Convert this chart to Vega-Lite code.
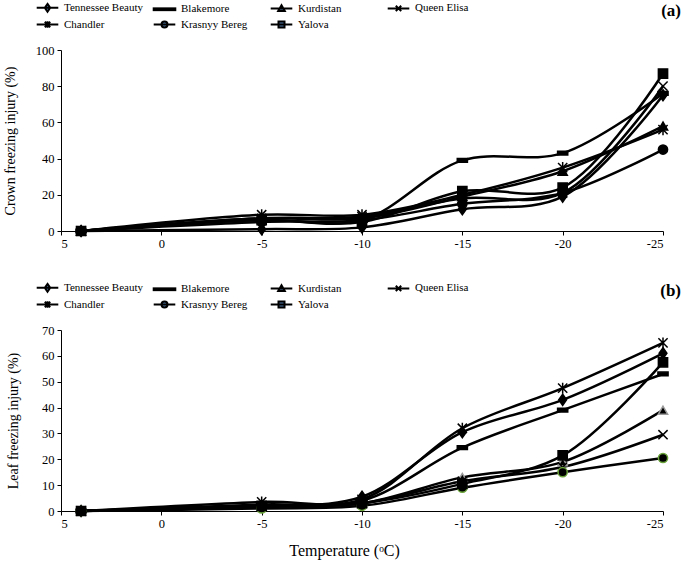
{
  "$schema": "https://vega.github.io/schema/vega-lite/v6.json",
  "background": "white",
  "padding": {"left": 3, "top": 2, "right": 2, "bottom": 2},
  "config": {
    "view": {"stroke": null},
    "font": "Liberation Serif",
    "axis": {
      "grid": false,
      "domainColor": "black",
      "tickColor": "black",
      "labelColor": "black",
      "titleColor": "black",
      "labelFont": "Liberation Serif",
      "titleFont": "Liberation Serif",
      "labelFontSize": 12.5,
      "titleFontSize": 14,
      "titleFontWeight": "normal",
      "tickSize": 4,
      "labelPadding": 3
    },
    "legend": {
      "orient": "none", "legendX": -29, "legendY": -48, "direction": "horizontal", "columns": 4, "title": null,
      "gridAlign": "all", "columnPadding": 6, "rowPadding": 1, "padding": 0, "symbolSize": 36, "symbolOffset": 10, "labelOffset": 11,
      "labelFont": "Liberation Serif", "labelFontSize": 11, "labelColor": "black",
      "symbolStrokeWidth": 2, "symbolStrokeColor": "black", "symbolFillColor": "black", "symbolOpacity": 1
    },
    "title": {"font": "Liberation Serif", "fontSize": 17, "fontWeight": "bold", "color": "black"}
  },
  "spacing": 32,
  "data": {
    "values": [
      {"p": "a", "c": "Tennessee Beauty", "t": 4, "v": 0},
      {"p": "a", "c": "Tennessee Beauty", "t": -5, "v": 1},
      {"p": "a", "c": "Tennessee Beauty", "t": -10, "v": 2},
      {"p": "a", "c": "Tennessee Beauty", "t": -15, "v": 12},
      {"p": "a", "c": "Tennessee Beauty", "t": -20, "v": 19},
      {"p": "a", "c": "Tennessee Beauty", "t": -25, "v": 75},
      {"p": "a", "c": "Blakemore", "t": 4, "v": 0},
      {"p": "a", "c": "Blakemore", "t": -5, "v": 6},
      {"p": "a", "c": "Blakemore", "t": -10, "v": 6},
      {"p": "a", "c": "Blakemore", "t": -15, "v": 39},
      {"p": "a", "c": "Blakemore", "t": -20, "v": 43},
      {"p": "a", "c": "Blakemore", "t": -25, "v": 76},
      {"p": "a", "c": "Kurdistan", "t": 4, "v": 0},
      {"p": "a", "c": "Kurdistan", "t": -5, "v": 7},
      {"p": "a", "c": "Kurdistan", "t": -10, "v": 7},
      {"p": "a", "c": "Kurdistan", "t": -15, "v": 19},
      {"p": "a", "c": "Kurdistan", "t": -20, "v": 33},
      {"p": "a", "c": "Kurdistan", "t": -25, "v": 58},
      {"p": "a", "c": "Queen Elisa", "t": 4, "v": 0},
      {"p": "a", "c": "Queen Elisa", "t": -5, "v": 7},
      {"p": "a", "c": "Queen Elisa", "t": -10, "v": 8},
      {"p": "a", "c": "Queen Elisa", "t": -15, "v": 18},
      {"p": "a", "c": "Queen Elisa", "t": -20, "v": 21},
      {"p": "a", "c": "Queen Elisa", "t": -25, "v": 80},
      {"p": "a", "c": "Chandler", "t": 4, "v": 0},
      {"p": "a", "c": "Chandler", "t": -5, "v": 9},
      {"p": "a", "c": "Chandler", "t": -10, "v": 9},
      {"p": "a", "c": "Chandler", "t": -15, "v": 20},
      {"p": "a", "c": "Chandler", "t": -20, "v": 35},
      {"p": "a", "c": "Chandler", "t": -25, "v": 56},
      {"p": "a", "c": "Krasnyy Bereg", "t": 4, "v": 0},
      {"p": "a", "c": "Krasnyy Bereg", "t": -5, "v": 5},
      {"p": "a", "c": "Krasnyy Bereg", "t": -10, "v": 6},
      {"p": "a", "c": "Krasnyy Bereg", "t": -15, "v": 15},
      {"p": "a", "c": "Krasnyy Bereg", "t": -20, "v": 21},
      {"p": "a", "c": "Krasnyy Bereg", "t": -25, "v": 45},
      {"p": "a", "c": "Yalova", "t": 4, "v": 0},
      {"p": "a", "c": "Yalova", "t": -5, "v": 6},
      {"p": "a", "c": "Yalova", "t": -10, "v": 5},
      {"p": "a", "c": "Yalova", "t": -15, "v": 22},
      {"p": "a", "c": "Yalova", "t": -20, "v": 24},
      {"p": "a", "c": "Yalova", "t": -25, "v": 87},
      {"p": "b", "c": "Tennessee Beauty", "t": 4, "v": 0},
      {"p": "b", "c": "Tennessee Beauty", "t": -5, "v": 2},
      {"p": "b", "c": "Tennessee Beauty", "t": -10, "v": 5.5},
      {"p": "b", "c": "Tennessee Beauty", "t": -15, "v": 30.5},
      {"p": "b", "c": "Tennessee Beauty", "t": -20, "v": 43},
      {"p": "b", "c": "Tennessee Beauty", "t": -25, "v": 61},
      {"p": "b", "c": "Blakemore", "t": 4, "v": 0},
      {"p": "b", "c": "Blakemore", "t": -5, "v": 2.5},
      {"p": "b", "c": "Blakemore", "t": -10, "v": 4},
      {"p": "b", "c": "Blakemore", "t": -15, "v": 24.5},
      {"p": "b", "c": "Blakemore", "t": -20, "v": 39},
      {"p": "b", "c": "Blakemore", "t": -25, "v": 53},
      {"p": "b", "c": "Kurdistan", "t": 4, "v": 0},
      {"p": "b", "c": "Kurdistan", "t": -5, "v": 2},
      {"p": "b", "c": "Kurdistan", "t": -10, "v": 3},
      {"p": "b", "c": "Kurdistan", "t": -15, "v": 13},
      {"p": "b", "c": "Kurdistan", "t": -20, "v": 19},
      {"p": "b", "c": "Kurdistan", "t": -25, "v": 39},
      {"p": "b", "c": "Queen Elisa", "t": 4, "v": 0},
      {"p": "b", "c": "Queen Elisa", "t": -5, "v": 1.5},
      {"p": "b", "c": "Queen Elisa", "t": -10, "v": 3},
      {"p": "b", "c": "Queen Elisa", "t": -15, "v": 11.5},
      {"p": "b", "c": "Queen Elisa", "t": -20, "v": 17},
      {"p": "b", "c": "Queen Elisa", "t": -25, "v": 29.5},
      {"p": "b", "c": "Chandler", "t": 4, "v": 0},
      {"p": "b", "c": "Chandler", "t": -5, "v": 3.5},
      {"p": "b", "c": "Chandler", "t": -10, "v": 4.5},
      {"p": "b", "c": "Chandler", "t": -15, "v": 32},
      {"p": "b", "c": "Chandler", "t": -20, "v": 47.5},
      {"p": "b", "c": "Chandler", "t": -25, "v": 65},
      {"p": "b", "c": "Krasnyy Bereg", "t": 4, "v": 0},
      {"p": "b", "c": "Krasnyy Bereg", "t": -5, "v": 1},
      {"p": "b", "c": "Krasnyy Bereg", "t": -10, "v": 2},
      {"p": "b", "c": "Krasnyy Bereg", "t": -15, "v": 9},
      {"p": "b", "c": "Krasnyy Bereg", "t": -20, "v": 15},
      {"p": "b", "c": "Krasnyy Bereg", "t": -25, "v": 20.5},
      {"p": "b", "c": "Yalova", "t": 4, "v": 0},
      {"p": "b", "c": "Yalova", "t": -5, "v": 2},
      {"p": "b", "c": "Yalova", "t": -10, "v": 3},
      {"p": "b", "c": "Yalova", "t": -15, "v": 10.5},
      {"p": "b", "c": "Yalova", "t": -20, "v": 21.5},
      {"p": "b", "c": "Yalova", "t": -25, "v": 57.5}
    ]
  },
  "vconcat": [
    {
      "width": 602,
      "height": 181,
      "title": {"text": "(a)", "anchor": "end", "frame": "group", "dx": 18, "offset": -18},
      "transform": [{"filter": "datum.p === 'a'"}],
      "encoding": {
        "x": {"field": "t", "type": "quantitative", "scale": {"domain": [-25, 5], "reverse": true},
              "axis": {"values": [5, 0, -5, -10, -15, -20, -25], "title": null, "labelExpr": "'' + datum.value", "labelPadding": 2}},
        "y": {"field": "v", "type": "quantitative", "scale": {"domain": [0, 100]},
              "axis": {"values": [0, 20, 40, 60, 80, 100], "title": "Crown freezing injury (%)", "titlePadding": 18}}
      },
      "resolve": {"scale": {"shape": "independent", "stroke": "independent"}, "legend": {"shape": "independent", "stroke": "independent"}},
      "layer": [
        {"mark": {"type": "line", "interpolate": "catmull-rom", "color": "black", "strokeWidth": 2.5},
         "encoding": {"detail": {"field": "c"}}},
        {"mark": {"type": "point", "filled": true, "size": 85, "opacity": 1, "fill": "black", "stroke": "black", "strokeWidth": 1.5},
         "encoding": {
           "shape": {"field": "c", "type": "nominal", "legend": null,
             "scale": {"domain": ["Tennessee Beauty", "Blakemore", "Kurdistan", "Queen Elisa", "Chandler", "Krasnyy Bereg", "Yalova"],
                       "range": ["M0,-1.2L0.85,0L0,1.2L-0.85,0Z", "M-1.1,-0.4L1.1,-0.4L1.1,0.4L-1.1,0.4Z", "triangle-up", "M-1,-1L1,1M-1,1L1,-1", "M-1,-1L1,1M-1,1L1,-1M0,-1.2L0,1.2", "circle", "square"]}}
         }},
        {"transform": [{"filter": "datum.t > 100"}],
         "mark": {"type": "point", "filled": true, "opacity": 1, "strokeWidth": 2},
         "encoding": {
           "shape": {"field": "c", "type": "nominal",
             "scale": {"domain": ["Tennessee Beauty", "Blakemore", "Kurdistan", "Queen Elisa", "Chandler", "Krasnyy Bereg", "Yalova"],
                       "range": ["M-3.6,0L3.6,0M0,-1.3L0.9,0L0,1.3L-0.9,0Z", "M-3.6,-0.3L3.6,-0.3L3.6,0.3L-3.6,0.3Z", "M-3.6,0L3.6,0M0,-1.1L1.1,0.8L-1.1,0.8Z", "M-3.6,0L3.6,0M-0.9,-0.9L0.9,0.9M-0.9,0.9L0.9,-0.9", "M-3.6,0L3.6,0M-0.9,-0.9L0.9,0.9M-0.9,0.9L0.9,-0.9M0,-1.1L0,1.1", "M-3.6,0L3.6,0M-1,0A1,1,0,1,0,1,0A1,1,0,1,0,-1,0Z", "M-3.6,0L3.6,0M-1,-1L1,-1L1,1L-1,1Z"]}},
           "stroke": {"field": "c", "type": "nominal",
             "scale": {"domain": ["Tennessee Beauty", "Blakemore", "Kurdistan", "Queen Elisa", "Chandler", "Krasnyy Bereg", "Yalova"],
                       "range": ["black", "black", "black", "black", "black", "black", "black"]}}
         }}
      ]
    },
    {
      "width": 602,
      "height": 181,
      "title": {"text": "(b)", "anchor": "end", "frame": "group", "dx": 18, "offset": -18},
      "transform": [{"filter": "datum.p === 'b'"}],
      "encoding": {
        "x": {"field": "t", "type": "quantitative", "scale": {"domain": [-25, 5], "reverse": true},
              "axis": {"values": [5, 0, -5, -10, -15, -20, -25], "title": "Temperature (ᵒC)", "labelExpr": "'' + datum.value", "labelPadding": 2,
                       "titleFontSize": 16, "titlePadding": 13, "titleX": 283}},
        "y": {"field": "v", "type": "quantitative", "scale": {"domain": [0, 70]},
              "axis": {"values": [0, 10, 20, 30, 40, 50, 60, 70], "title": "Leaf freezing injury (%)", "titlePadding": 21}}
      },
      "resolve": {"scale": {"shape": "independent", "stroke": "independent"}, "legend": {"shape": "independent", "stroke": "independent"}},
      "layer": [
        {"mark": {"type": "line", "interpolate": "catmull-rom", "color": "black", "strokeWidth": 2.5},
         "encoding": {"detail": {"field": "c"}}},
        {"mark": {"type": "point", "filled": true, "size": 85, "opacity": 1, "fill": "black", "strokeWidth": 1.5},
         "encoding": {
           "stroke": {"field": "c", "type": "nominal", "legend": null,
             "scale": {"domain": ["Tennessee Beauty", "Blakemore", "Kurdistan", "Queen Elisa", "Chandler", "Krasnyy Bereg", "Yalova"],
                       "range": ["black", "black", "#9a9a9a", "black", "black", "#6aa43a", "black"]}},
           "shape": {"field": "c", "type": "nominal", "legend": null,
             "scale": {"domain": ["Tennessee Beauty", "Blakemore", "Kurdistan", "Queen Elisa", "Chandler", "Krasnyy Bereg", "Yalova"],
                       "range": ["M0,-1.2L0.85,0L0,1.2L-0.85,0Z", "M-1.1,-0.4L1.1,-0.4L1.1,0.4L-1.1,0.4Z", "triangle-up", "M-1,-1L1,1M-1,1L1,-1", "M-1,-1L1,1M-1,1L1,-1M0,-1.2L0,1.2", "circle", "square"]}}
         }},
        {"transform": [{"filter": "datum.t > 100"}],
         "mark": {"type": "point", "filled": true, "opacity": 1, "strokeWidth": 2},
         "encoding": {
           "shape": {"field": "c", "type": "nominal",
             "scale": {"domain": ["Tennessee Beauty", "Blakemore", "Kurdistan", "Queen Elisa", "Chandler", "Krasnyy Bereg", "Yalova"],
                       "range": ["M-3.6,0L3.6,0M0,-1.3L0.9,0L0,1.3L-0.9,0Z", "M-3.6,-0.3L3.6,-0.3L3.6,0.3L-3.6,0.3Z", "M-3.6,0L3.6,0M0,-1.1L1.1,0.8L-1.1,0.8Z", "M-3.6,0L3.6,0M-0.9,-0.9L0.9,0.9M-0.9,0.9L0.9,-0.9", "M-3.6,0L3.6,0M-0.9,-0.9L0.9,0.9M-0.9,0.9L0.9,-0.9M0,-1.1L0,1.1", "M-3.6,0L3.6,0M-1,0A1,1,0,1,0,1,0A1,1,0,1,0,-1,0Z", "M-3.6,0L3.6,0M-1,-1L1,-1L1,1L-1,1Z"]}},
           "stroke": {"field": "c", "type": "nominal",
             "scale": {"domain": ["Tennessee Beauty", "Blakemore", "Kurdistan", "Queen Elisa", "Chandler", "Krasnyy Bereg", "Yalova"],
                       "range": ["black", "black", "black", "black", "black", "black", "black"]}}
         }}
      ]
    }
  ]
}
